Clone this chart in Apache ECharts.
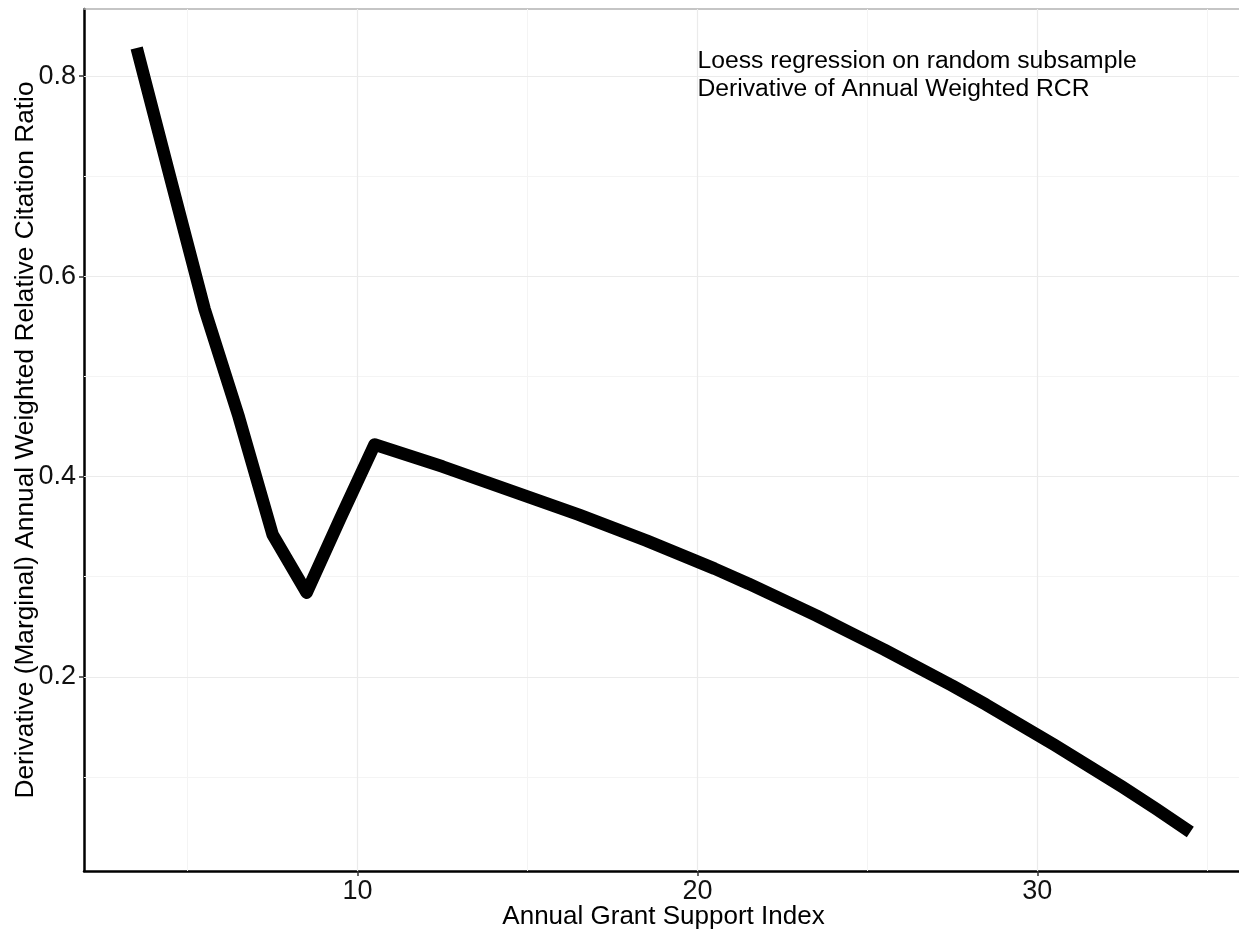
<!DOCTYPE html>
<html><head><meta charset="utf-8">
<script src="https://cdn.jsdelivr.net/npm/echarts@6/dist/echarts.min.js"></script>
<style>html,body{margin:0;padding:0;background:#fff}#c{width:1239px;height:930px}</style>
</head><body><div id="c"></div>
<script>
const xValues = [3.5, 4.5, 5.5, 6.5, 7.5, 8.5, 9.5, 10.5, 11.5, 12.5, 13.5, 14.5, 15.5, 16.5, 17.5, 18.5, 19.5, 20.5, 21.5, 22.5, 23.5, 24.5, 25.5, 26.5, 27.5, 28.5, 29.5, 30.5, 31.5, 32.5, 33.5, 34.5];
const yValues = [0.828, 0.697, 0.567, 0.460, 0.342, 0.284, 0.359, 0.432, 0.421, 0.410, 0.398, 0.386, 0.374, 0.362, 0.349, 0.336, 0.322, 0.308, 0.293, 0.277, 0.261, 0.244, 0.227, 0.209, 0.191, 0.172, 0.152, 0.132, 0.111, 0.090, 0.068, 0.045];
const xTicks = [10, 20, 30];
const yTicks = [0.2, 0.4, 0.6, 0.8];
const xMinorTicks = [5, 15, 25, 35];
const yMinorTicks = [0.1, 0.3, 0.5, 0.7];
const xRange = [1.95, 36.05];
const yRange = [0.006, 0.867];
const annotationX = 20;
const annotationY = [0.815, 0.787];
const annotationLines = ['Loess regression on random subsample', 'Derivative of Annual Weighted RCR'];
const xTitle = 'Annual Grant Support Index';
const yTitle = 'Derivative (Marginal) Annual Weighted Relative Citation Ratio';

const FONT = '"Liberation Sans", Arial, sans-serif';
const chart = echarts.init(document.getElementById('c'), null, {renderer: 'canvas'});
const points = xValues.map((x, i) => [x, yValues[i]]);

chart.setOption({
  animation: false,
  backgroundColor: '#fff',
  grid: {left: 84, top: 9, width: 1159, height: 862, containLabel: false, outerBoundsMode: 'none'},
  xAxis: [{
    type: 'value', min: xRange[0], max: xRange[1], position: 'bottom',
    name: xTitle, nameLocation: 'middle', nameGap: 33, nameMoveOverlap: false,
    nameTextStyle: {fontFamily: FONT, fontSize: 26, color: '#000'},
    axisLine: {show: true, onZero: false, lineStyle: {color: '#000', width: 2.5}},
    axisTick: {show: true, customValues: xTicks, length: 5, lineStyle: {color: '#333', width: 1.5}},
    axisLabel: {customValues: xTicks, formatter: v => String(v), fontFamily: FONT, fontSize: 27, color: '#111', margin: 7},
    splitLine: {show: false}
  }, {
    type: 'value', min: xRange[0], max: xRange[1], position: 'top',
    axisLine: {show: true, onZero: false, lineStyle: {color: '#b3b3b3', width: 1.5}},
    axisTick: {show: false}, axisLabel: {show: false}, splitLine: {show: false}
  }],
  yAxis: {
    type: 'value', min: yRange[0], max: yRange[1],
    name: yTitle, nameLocation: 'middle', nameGap: 45, nameMoveOverlap: false,
    nameTextStyle: {fontFamily: FONT, fontSize: 26.3, color: '#000'},
    axisLine: {show: true, onZero: false, lineStyle: {color: '#000', width: 2.5}},
    axisTick: {show: true, customValues: yTicks, length: 5, lineStyle: {color: '#333', width: 1.5}},
    axisLabel: {customValues: yTicks, formatter: v => v.toFixed(1), fontFamily: FONT, fontSize: 27, color: '#111', margin: 8},
    splitLine: {show: false}
  },
  series: [{
    type: 'line', data: [], silent: true,
    markLine: {
      z: 1, silent: true, symbol: 'none', label: {show: false},
      lineStyle: {color: '#f4f4f4', width: 1, type: 'solid'},
      emphasis: {disabled: true},
      data: [...xMinorTicks.map(v => ({xAxis: v})), ...yMinorTicks.map(v => ({yAxis: v}))]
    }
  }, {
    type: 'line', data: [], silent: true,
    markLine: {
      z: 1, silent: true, symbol: 'none', label: {show: false},
      lineStyle: {color: '#ebebeb', width: 1.2, type: 'solid'},
      emphasis: {disabled: true},
      data: [...xTicks.map(v => ({xAxis: v})), ...yTicks.map(v => ({yAxis: v}))]
    }
  }, {
    type: 'line', data: points, z: 3,
    showSymbol: false, symbol: 'none',
    lineStyle: {color: '#000', width: 12.5, cap: 'butt', join: 'round'},
    markPoint: {
      symbol: 'circle', symbolSize: 0, silent: true,
      label: {show: true, position: 'right', distance: 0, fontFamily: FONT, fontSize: 24.7, color: '#000', align: 'left', verticalAlign: 'middle'},
      data: annotationLines.map((t, i) => ({coord: [annotationX, annotationY[i]], value: t, label: {formatter: t}}))
    }
  }]
});
</script></body></html>
